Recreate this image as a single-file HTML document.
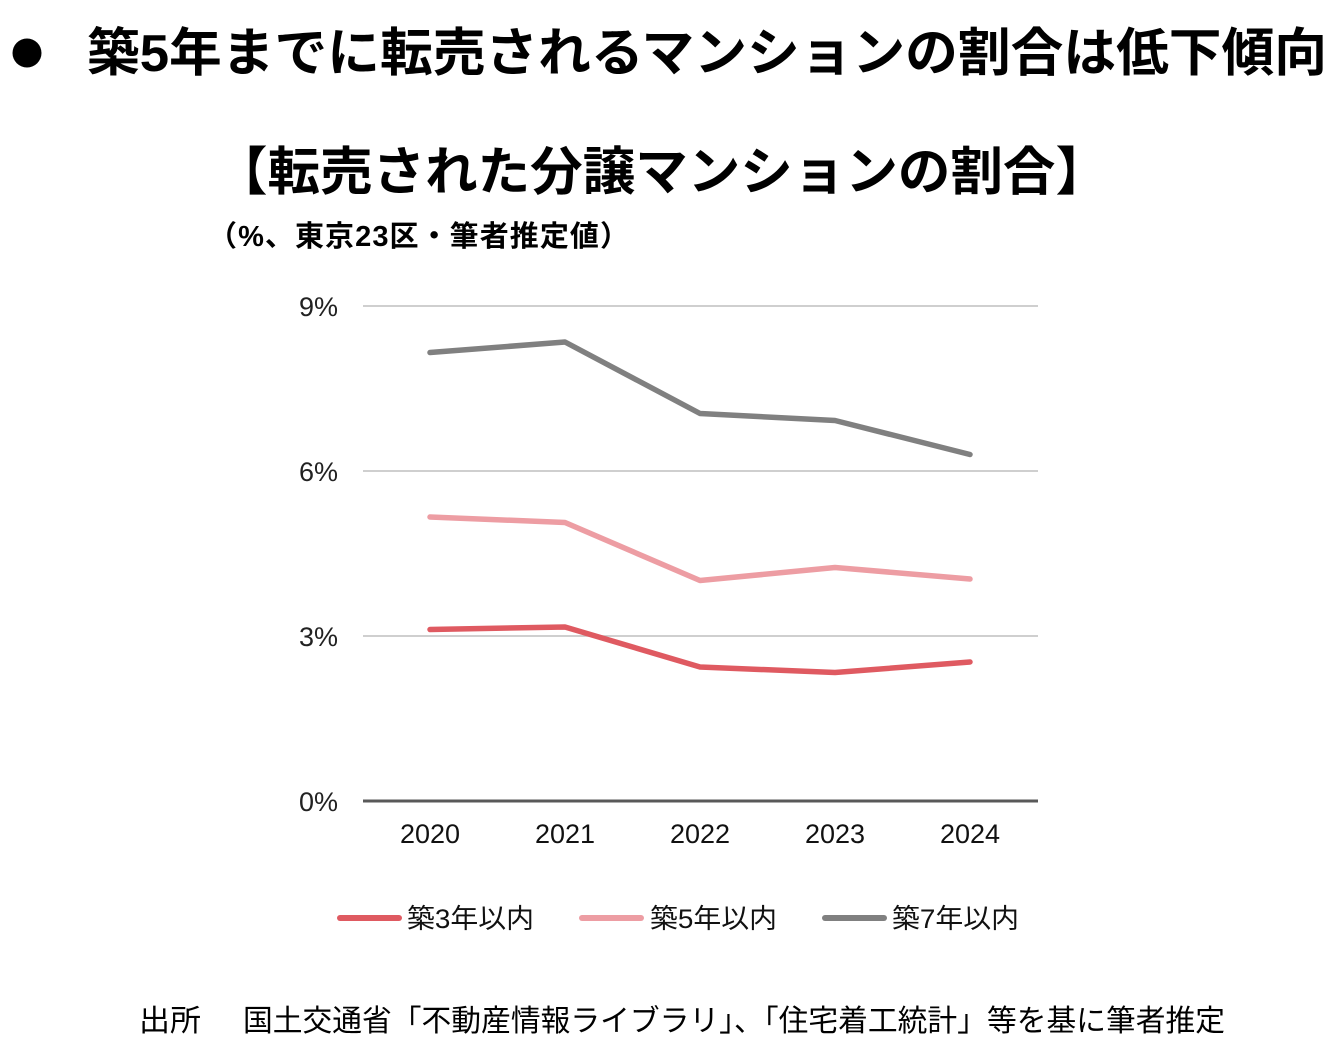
<!DOCTYPE html>
<html>
<head>
<meta charset="utf-8">
<style>
  html,body{margin:0;padding:0;background:#fff;}
  svg{display:block;}
  text{font-family:"Liberation Sans","Noto Sans CJK JP",sans-serif;}
</style>
</head>
<body>
<svg width="1330" height="1060" viewBox="0 0 1330 1060" xmlns="http://www.w3.org/2000/svg">
  <rect width="1330" height="1060" fill="#fff"/>

  <!-- Heading -->
  <circle cx="27" cy="53" r="14.5" fill="#000"/>
  <text x="87" y="71" font-size="52" font-weight="bold" fill="#000" textLength="1240" lengthAdjust="spacingAndGlyphs">築5年までに転売されるマンションの割合は低下傾向</text>

  <!-- Chart title -->
  <text x="215" y="190" font-size="52" font-weight="bold" fill="#000" textLength="893" lengthAdjust="spacingAndGlyphs">【転売された分譲マンションの割合】</text>
  <text x="208" y="246" font-size="29" font-weight="bold" fill="#000" textLength="421" lengthAdjust="spacing">（%、東京23区・筆者推定値）</text>

  <!-- Gridlines -->
  <g stroke="#bfbfbf" stroke-width="1.4">
    <line x1="363" y1="306" x2="1038" y2="306"/>
    <line x1="363" y1="471" x2="1038" y2="471"/>
    <line x1="363" y1="636" x2="1038" y2="636"/>
  </g>
  <line x1="363" y1="801" x2="1038" y2="801" stroke="#595959" stroke-width="3"/>

  <!-- Y labels -->
  <g font-size="27" fill="#222" text-anchor="end">
    <text x="338" y="316">9%</text>
    <text x="338" y="481">6%</text>
    <text x="338" y="646">3%</text>
    <text x="338" y="811">0%</text>
  </g>

  <!-- X labels -->
  <g font-size="27" fill="#111" text-anchor="middle">
    <text x="430" y="843">2020</text>
    <text x="565" y="843">2021</text>
    <text x="700" y="843">2022</text>
    <text x="835" y="843">2023</text>
    <text x="970" y="843">2024</text>
  </g>

  <!-- Series -->
  <g fill="none" stroke-width="5.5" stroke-linecap="round" stroke-linejoin="round">
    <polyline stroke="#808080" points="430,352.5 565,342 700,413.5 835,420.5 970,454.5"/>
    <polyline stroke="#ED9DA3" points="430,517 565,522.5 700,580.5 835,567.5 970,579"/>
    <polyline stroke="#DF5A61" points="430,629.5 565,627 700,667 835,672.5 970,662"/>
  </g>

  <!-- Legend -->
  <g stroke-width="6" stroke-linecap="round">
    <line x1="340" y1="918" x2="399" y2="918" stroke="#DF5A61"/>
    <line x1="582" y1="918" x2="641" y2="918" stroke="#ED9DA3"/>
    <line x1="825" y1="918" x2="884" y2="918" stroke="#808080"/>
  </g>
  <g font-size="27" fill="#111">
    <text x="407" y="928" textLength="127" lengthAdjust="spacingAndGlyphs">築3年以内</text>
    <text x="650" y="928" textLength="127" lengthAdjust="spacingAndGlyphs">築5年以内</text>
    <text x="892" y="928" textLength="127" lengthAdjust="spacingAndGlyphs">築7年以内</text>
  </g>

  <!-- Source -->
  <g font-size="30" fill="#000">
    <text x="139" y="1031" textLength="62" lengthAdjust="spacingAndGlyphs">出所</text>
    <text x="243" y="1031" textLength="982" lengthAdjust="spacingAndGlyphs">国土交通省「不動産情報ライブラリ」、「住宅着工統計」等を基に筆者推定</text>
  </g>
</svg>
</body>
</html>
